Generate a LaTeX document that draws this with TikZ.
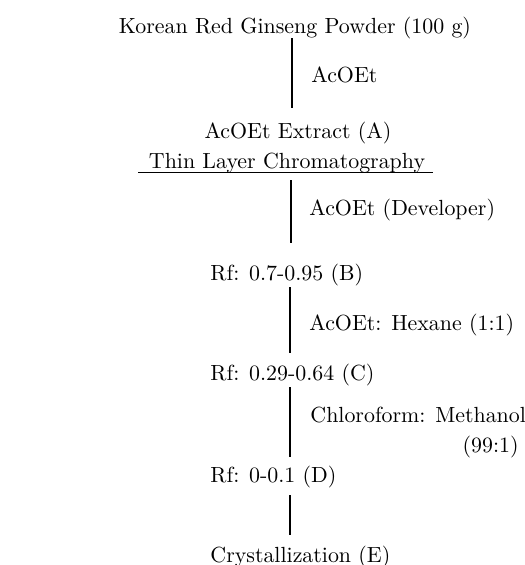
\documentclass[tikz,border=0pt]{standalone}
\begin{document}
\begin{tikzpicture}[x=0.4566pt,y=-0.4566pt,
  txt/.style={inner sep=0pt,font=\fontsize{10}{12}\selectfont},
  lbl/.style={txt,anchor=base west},
  ctr/.style={txt,anchor=base},
  conn/.style={line width=0.65pt}]
\useasboundingbox (0,0) rectangle (525,565);
% main items
\node[ctr] (title) at (295,33) {Korean Red Ginseng Powder (100 g)};
\node[ctr] (extract) at (298,138) {AcOEt Extract (A)};
\node[ctr] (tlc) at (287,168) {Thin Layer Chromatography};
\node[lbl] (B) at (210,280) {Rf: 0.7-0.95 (B)};
\node[lbl] (C) at (210,380) {Rf: 0.29-0.64 (C)};
\node[lbl] (D) at (210,482) {Rf: 0-0.1 (D)};
\node[lbl] (E) at (210,562) {Crystallization (E)};
% step labels
\node[lbl] (s1) at (311,82) {AcOEt};
\node[lbl] (s2) at (309,215) {AcOEt (Developer)};
\node[lbl] (s3) at (309,330) {AcOEt: Hexane (1:1)};
\node[lbl] (s4) at (310,422) {Chloroform: Methanol};
\node[txt,anchor=base east] (s4b) at (519,452) {(99:1)};
% underline
\coordinate (ula) at (138,172.5);
\coordinate (ulb) at (433,172.5);
\draw[conn] (ula) -- (ulb);
% connectors
\coordinate (l1a) at (292,38);  \coordinate (l1b) at (292,108);
\coordinate (l2a) at (291,180); \coordinate (l2b) at (291,243);
\coordinate (l3a) at (290,287); \coordinate (l3b) at (290,353);
\coordinate (l4a) at (290,387); \coordinate (l4b) at (290,457);
\coordinate (l5a) at (290,495); \coordinate (l5b) at (290,535);
\draw[conn] (l1a) -- (l1b);
\draw[conn] (l2a) -- (l2b);
\draw[conn] (l3a) -- (l3b);
\draw[conn] (l4a) -- (l4b);
\draw[conn] (l5a) -- (l5b);
\end{tikzpicture}
\end{document}
